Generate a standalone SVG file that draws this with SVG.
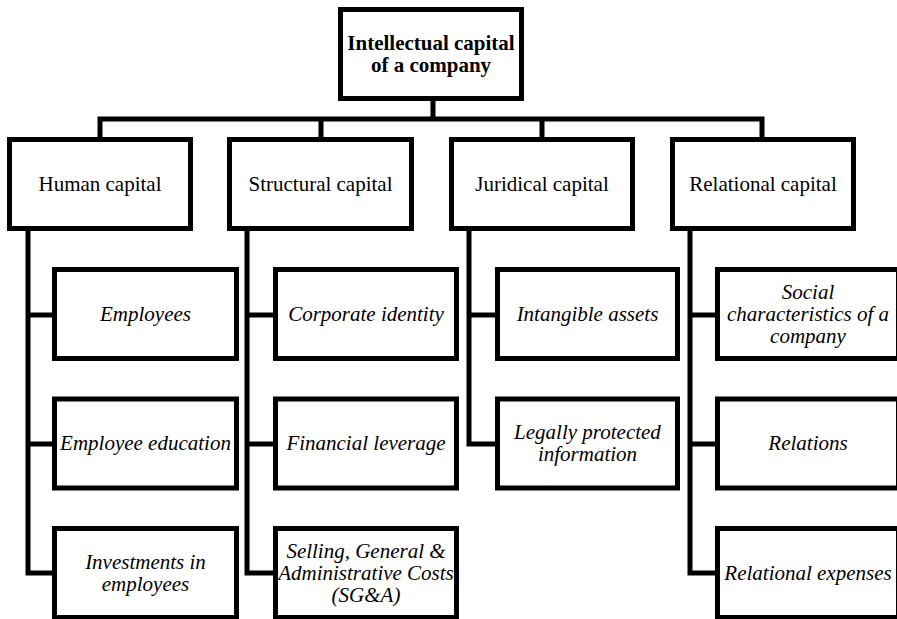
<svg xmlns="http://www.w3.org/2000/svg" width="897" height="619" viewBox="0 0 897 619">
<style>
.box{fill:#fff;stroke:#000;stroke-width:5}
.ln{fill:none;stroke:#000;stroke-width:5;stroke-linejoin:miter;stroke-linecap:square}
text{font-family:"Liberation Serif","Times New Roman",serif;font-size:21px;fill:#000;text-anchor:middle}
.b{font-weight:bold}
.i{font-style:italic}
</style>
<rect width="897" height="619" fill="#fff"/>
<g id="connectors">
<path class="ln" d="M433,101 V119 M100,137 V119 H762 V137 M321,119 V137 M542,119 V137"/>
<path class="ln" d="M28,231 V573 H52 M28,315 H52 M28,444 H52"/>
<path class="ln" d="M247,231 V573 H273 M247,315 H273 M247,444 H273"/>
<path class="ln" d="M469,231 V444 H495 M469,315 H495"/>
<path class="ln" d="M690,231 V573 H715 M690,315 H715 M690,444 H715"/>
</g>
<g id="root"><rect class="box" x="340.5" y="9.5" width="181" height="89"/><text class="b" x="431" y="50">Intellectual capital</text><text class="b" x="431" y="72">of a company</text></g>
<g id="human"><rect class="box" x="9.5" y="139.5" width="181" height="89"/><text x="100" y="191">Human capital</text></g>
<g id="structural"><rect class="box" x="229.5" y="139.5" width="182" height="89"/><text x="320.5" y="191">Structural capital</text></g>
<g id="juridical"><rect class="box" x="451.5" y="139.5" width="181" height="89"/><text x="542" y="191">Juridical capital</text></g>
<g id="relational"><rect class="box" x="672.5" y="139.5" width="181" height="89"/><text x="763" y="191">Relational capital</text></g>
<g id="employees"><rect class="box" x="54.5" y="269.5" width="182" height="89"/><text class="i" x="145.5" y="321">Employees</text></g>
<g id="education"><rect class="box" x="54.5" y="399" width="182" height="89"/><text class="i" x="145.5" y="450">Employee education</text></g>
<g id="investments"><rect class="box" x="54.5" y="528.5" width="182" height="89"/><text class="i" x="145.5" y="569">Investments in</text><text class="i" x="145.5" y="591">employees</text></g>
<g id="corporate"><rect class="box" x="275.5" y="269.5" width="181" height="89"/><text class="i" x="366" y="321">Corporate identity</text></g>
<g id="leverage"><rect class="box" x="275.5" y="399" width="181" height="89"/><text class="i" x="366" y="450">Financial leverage</text></g>
<g id="sga"><rect class="box" x="275.5" y="528.5" width="181" height="89"/><text class="i" x="366" y="558">Selling, General &amp;</text><text class="i" x="366" y="580">Administrative Costs</text><text class="i" x="366" y="602">(SG&amp;A)</text></g>
<g id="intangible"><rect class="box" x="497.5" y="269.5" width="180" height="89"/><text class="i" x="587.5" y="321">Intangible assets</text></g>
<g id="legal"><rect class="box" x="497.5" y="399" width="180" height="89"/><text class="i" x="587.5" y="439">Legally protected</text><text class="i" x="587.5" y="461">information</text></g>
<g id="social"><rect class="box" x="717.5" y="269.5" width="181" height="89"/><text class="i" x="808" y="299">Social</text><text class="i" x="808" y="321">characteristics of a</text><text class="i" x="808" y="343">company</text></g>
<g id="relations"><rect class="box" x="717.5" y="399" width="181" height="89"/><text class="i" x="808" y="450">Relations</text></g>
<g id="expenses"><rect class="box" x="717.5" y="528.5" width="181" height="89"/><text class="i" x="808" y="580">Relational expenses</text></g>
</svg>
